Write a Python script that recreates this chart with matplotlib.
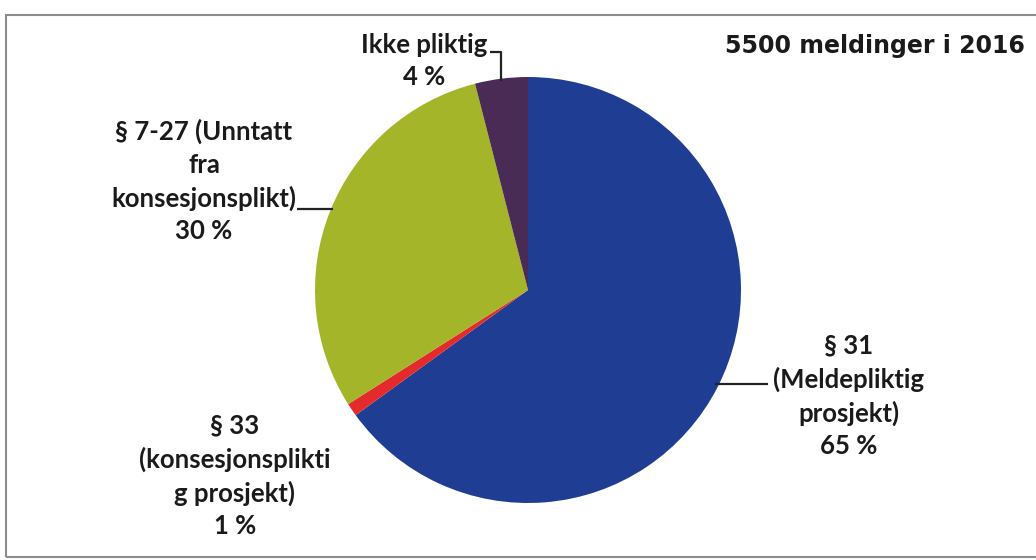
import numpy as np
import matplotlib
matplotlib.use('Agg')
import matplotlib.pyplot as plt
import matplotlib.patches as mpatches

labels = ['§ 31\n(Meldepliktig\nprosjekt)\n65 %',
          '§ 33\n(konsesjonsplikti\ng prosjekt)\n1 %',
          '§ 7-27 (Unntatt\nfra\nkonsesjonsplikt)\n30 %',
          'Ikke pliktig\n4 %']
shares = [65, 1, 30, 4]
colors = ['#1e3d93', '#e42a2a', '#a4b52a', '#4a2b55']
title = '5500 meldinger i 2016'

W, H = 1036, 560
fig = plt.figure(figsize=(W / 100, H / 100), dpi=100)
ax = fig.add_axes([0, 0, 1, 1])

# frame of the scanned chart box
frame = mpatches.Rectangle((6, 3), W + 20, 542, fill=False, ec='#8c8c8c', lw=1.5)
ax.add_patch(frame)

cx, cy, r = 528, 270, 213
wedges, _ = ax.pie(shares, colors=colors, startangle=90, counterclock=False,
                   center=(cx, cy), radius=r, frame=True,
                   wedgeprops=dict(linewidth=0))
ax.set_xlim(0, W)
ax.set_ylim(0, H)
ax.set_aspect('equal')
ax.axis('off')

font = dict(family=['Lato', 'DejaVu Sans'], fontsize=18.5, weight='bold',
            color='#1a1a1a', ha='center', va='center', linespacing=1.41)

# label positions (pixel space, y up)
label_pos = [(849, 164), (235, 84), (204, 379), (424, 499)]
for w, lab, (tx, ty) in zip(wedges, labels, label_pos):
    ax.text(tx, ty, lab, **font)

def edge(w):
    a = np.deg2rad((w.theta1 + w.theta2) / 2)
    return cx + r * np.cos(a), cy + r * np.sin(a)

lk = dict(color='#222222', lw=1.6, solid_capstyle='butt')
# § 31 leader
ex, ey = edge(wedges[0])
ax.plot([ex - 3, 768], [ey + 3, ey + 3], **lk)
# § 7-27 leader
ex, ey = edge(wedges[2])
ax.plot([ex + 3, 297], [ey + 3, ey + 3], **lk)
# Ikke pliktig leader
ex, ey = edge(wedges[3])
ax.plot([ex, ex, 490], [ey - 2, 508, 508], **lk)

ax.text(1025, 514, title, family='DejaVu Sans', weight='bold', fontsize=17,
        color='#1a1a1a', ha='right', va='center')

fig.savefig('out.png', dpi=100)
